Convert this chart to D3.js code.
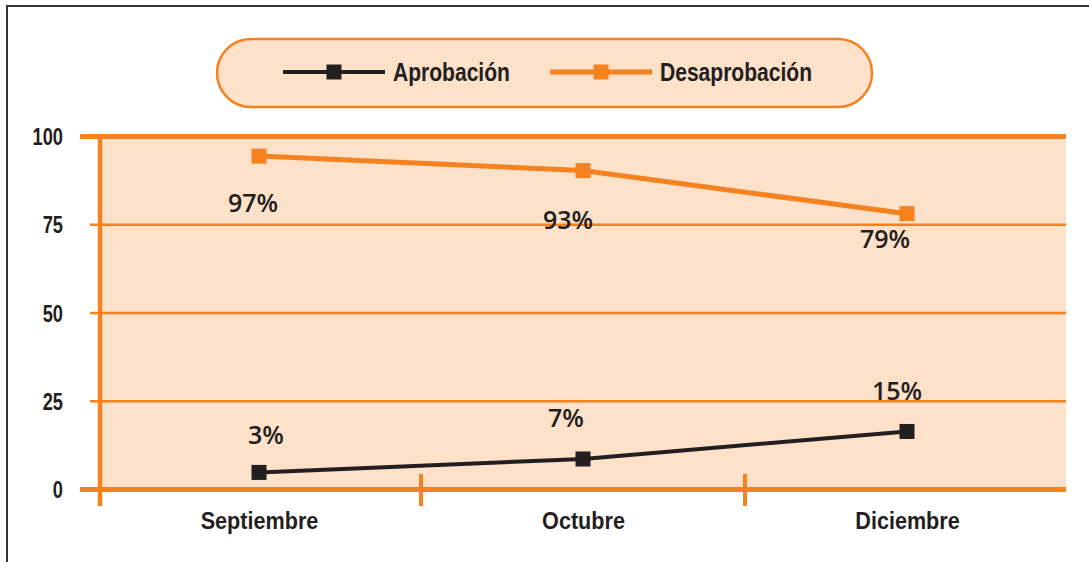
<!DOCTYPE html>
<html>
<head>
<meta charset="utf-8">
<script src="https://cdn.jsdelivr.net/npm/d3@7"></script>
<style>
  html, body { margin: 0; padding: 0; background: #ffffff; }
  svg { display: block; }
</style>
</head>
<body>
<div id="chart"></div>
<script>
// Chart data
const months = ['Septiembre', 'Octubre', 'Diciembre'];
const aprobacion = [4.7, 8.5, 16.3];
const desaprobacion = [94.3, 90.2, 78.0];
const aprobacionLabels = ['3%', '7%', '15%'];
const desaprobacionLabels = ['97%', '93%', '79%'];
const yTicks = [0, 25, 50, 75, 100];

// Layout: where each value label sits relative to its point
const aprobLabelOffsets = [[7, -37], [-17, -41], [-10, -40]];
const desapLabelOffsets = [[-6, 47], [-15, 49], [-22, 25]];

const width = 1089;
const height = 562;
const orange = '#f5821f';
const fillColor = '#fde1c9';
const dark = '#231f20';
const boldFont = '"Liberation Sans", Arial, sans-serif';
const labelFont = '"Open Sans", "Noto Sans", sans-serif';

const plotLeft = 100;
const plotRight = 1066;

const svg = d3.select('#chart')
  .append('svg')
  .attr('width', width)
  .attr('height', height)
  .attr('viewBox', [0, 0, width, height]);

// Outer frame
svg.append('path')
  .attr('d', `M7,${height + 5} V6 H${width + 5}`)
  .attr('fill', 'none')
  .attr('stroke', '#333333')
  .attr('stroke-width', 2);

// Scales
const x = d3.scalePoint()
  .domain(months)
  .range([259, 907]);

const y = d3.scaleLinear()
  .domain([0, 100])
  .range([489, 136]);

// Plot background
svg.append('rect')
  .attr('x', plotLeft)
  .attr('y', y(100))
  .attr('width', plotRight - plotLeft)
  .attr('height', y(0) - y(100))
  .attr('fill', fillColor);

// Horizontal grid lines
const grid = svg.append('g')
  .attr('transform', `translate(${plotLeft},0)`)
  .call(d3.axisLeft(y)
    .tickValues(yTicks)
    .tickSize(-(plotRight - plotLeft))
    .tickFormat(''));
grid.select('.domain').remove();
grid.selectAll('.tick line')
  .attr('stroke', orange)
  .attr('stroke-width', d => (d === 0 || d === 100) ? 5 : 2.5)
  .attr('x1', d => (d === 0 || d === 100) ? -20 : -10);

// Y axis labels (condensed look)
const yAxis = svg.append('g')
  .attr('transform', `translate(63,0)`)
  .call(d3.axisLeft(y).tickValues(yTicks).tickSize(0).tickPadding(0));
yAxis.select('.domain').remove();
yAxis.selectAll('text')
  .attr('fill', dark)
  .attr('x', 0)
  .attr('dy', '0.36em')
  .attr('transform', 'scale(0.76,1)')
  .style('font-family', boldFont)
  .style('font-weight', 'bold')
  .style('font-size', '24px');

// Vertical axis line
svg.append('line')
  .attr('x1', plotLeft)
  .attr('x2', plotLeft)
  .attr('y1', y(100))
  .attr('y2', 506)
  .attr('stroke', orange)
  .attr('stroke-width', 4.5);

// X axis separators between months
const step = x.step();
const separators = months.slice(1).map(m => x(m) - step / 2);
svg.selectAll('.sep')
  .data(separators)
  .join('line')
  .attr('class', 'sep')
  .attr('x1', d => d)
  .attr('x2', d => d)
  .attr('y1', 474)
  .attr('y2', 506)
  .attr('stroke', orange)
  .attr('stroke-width', 4);

// Month labels
const xAxis = svg.append('g')
  .attr('transform', `translate(0,${y(0)})`)
  .call(d3.axisBottom(x).tickSize(0).tickPadding(0));
xAxis.select('.domain').remove();
xAxis.selectAll('text')
  .attr('fill', dark)
  .attr('y', 31)
  .attr('dy', '0.36em')
  .attr('transform', 'scale(0.9,1)')
  .style('font-family', boldFont)
  .style('font-weight', 'bold')
  .style('font-size', '24px');

// Series
const line = d3.line()
  .x((d, i) => x(months[i]))
  .y(d => y(d));

function drawSeries(values, color, strokeWidth) {
  svg.append('path')
    .datum(values)
    .attr('fill', 'none')
    .attr('stroke', color)
    .attr('stroke-width', strokeWidth)
    .attr('d', line);

  svg.append('g')
    .selectAll('rect')
    .data(values)
    .join('rect')
    .attr('x', (d, i) => x(months[i]) - 7.5)
    .attr('y', d => y(d) - 7.5)
    .attr('width', 15)
    .attr('height', 15)
    .attr('fill', color);
}

drawSeries(desaprobacion, orange, 5);
drawSeries(aprobacion, dark, 4);

function drawLabels(values, labels, offsets) {
  svg.append('g')
    .selectAll('text')
    .data(values)
    .join('text')
    .attr('x', (d, i) => x(months[i]) + offsets[i][0])
    .attr('y', (d, i) => y(d) + offsets[i][1])
    .attr('dy', '0.36em')
    .attr('text-anchor', 'middle')
    .attr('fill', dark)
    .style('font-family', labelFont)
    .style('font-weight', 600)
    .style('font-size', '25px')
    .text((d, i) => labels[i]);
}

drawLabels(desaprobacion, desaprobacionLabels, desapLabelOffsets);
drawLabels(aprobacion, aprobacionLabels, aprobLabelOffsets);

// Legend
const legend = svg.append('g');
legend.append('rect')
  .attr('x', 217)
  .attr('y', 39)
  .attr('width', 655)
  .attr('height', 68)
  .attr('rx', 34)
  .attr('fill', fillColor)
  .attr('stroke', orange)
  .attr('stroke-width', 2.5);

const legendItems = [
  { name: 'Aprobación', color: dark, x: 283, width: 4 },
  { name: 'Desaprobación', color: orange, x: 550, width: 5 }
];

legendItems.forEach(item => {
  const row = legend.append('g')
    .attr('transform', `translate(${item.x},72)`);
  row.append('line')
    .attr('x1', 0)
    .attr('x2', 102)
    .attr('stroke', item.color)
    .attr('stroke-width', item.width);
  row.append('rect')
    .attr('x', 43.5)
    .attr('y', -7.5)
    .attr('width', 15)
    .attr('height', 15)
    .attr('fill', item.color);
  row.append('g')
    .attr('transform', 'translate(110,0) scale(0.81,1)')
    .append('text')
    .attr('dy', '0.36em')
    .attr('fill', dark)
    .style('font-family', boldFont)
    .style('font-weight', 'bold')
    .style('font-size', '26px')
    .text(item.name);
});
</script>
</body>
</html>
